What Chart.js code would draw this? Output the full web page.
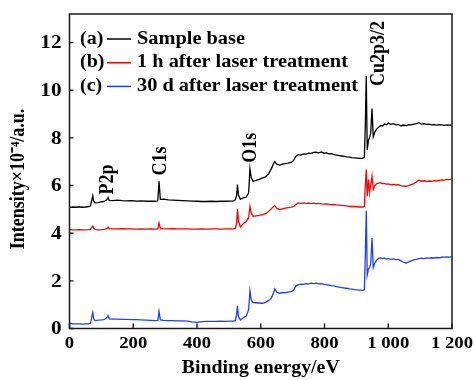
<!DOCTYPE html>
<html>
<head>
<meta charset="utf-8">
<script src="https://cdn.jsdelivr.net/npm/chart.js@4/dist/chart.umd.min.js"></script>
<style>
  html, body { margin: 0; padding: 0; background: #fff; }
  #wrap { width: 474px; height: 380px; position: relative; }
</style>
</head>
<body>
<div id="wrap"><canvas id="xps"></canvas></div>
<script>
// binding energy grid (eV), shared by all three spectra
const energy = [
  0, 10, 20, 30, 40, 50, 60, 66, 70, 73,
  76, 80, 90, 100, 107, 112, 117, 121, 125, 135,
  150, 165, 180, 195, 210, 225, 240, 255, 270, 277,
  281, 285, 295, 310, 325, 340, 355, 370, 385, 400,
  415, 430, 445, 460, 475, 490, 505, 515, 520, 524,
  527, 530, 536, 545, 555, 562, 566, 570, 576, 585,
  595, 606, 615, 625, 633, 640, 644, 650, 659, 668,
  677, 686, 695, 703, 710, 718, 726, 734, 742, 750,
  758, 766, 774, 782, 790, 798, 806, 814, 822, 830,
  838, 846, 854, 862, 870, 878, 886, 894, 902, 910,
  918, 925, 928, 931, 934, 938, 941, 945, 949, 953,
  958, 964, 970, 976, 982, 988, 994, 1000, 1008, 1016,
  1024, 1032, 1040, 1048, 1056, 1064, 1072, 1080, 1088, 1096,
  1104, 1112, 1120, 1128, 1136, 1144, 1152, 1160, 1168, 1176,
  1184, 1192, 1200
];

// intensity x10^-4 (a.u.), spectra stacked with offsets
const sampleBase = [
  5.08, 5.10, 5.09, 5.11, 5.09, 5.10, 5.12, 5.15, 5.40, 5.58,
  5.35, 5.27, 5.28, 5.32, 5.33, 5.36, 5.40, 5.50, 5.38, 5.37,
  5.39, 5.37, 5.36, 5.37, 5.35, 5.36, 5.34, 5.35, 5.34, 5.36,
  6.18, 5.42, 5.43, 5.40, 5.39, 5.38, 5.37, 5.36, 5.35, 5.34,
  5.33, 5.33, 5.34, 5.33, 5.34, 5.34, 5.35, 5.36, 5.40, 5.55,
  6.04, 5.60, 5.42, 5.48, 5.52, 5.70, 6.70, 6.35, 6.18, 6.22,
  6.26, 6.32, 6.36, 6.50, 6.70, 6.92, 7.00, 6.90, 6.86, 6.90,
  6.92, 6.94, 6.97, 7.05, 7.22, 7.30, 7.28, 7.33, 7.32, 7.36,
  7.35, 7.39, 7.40, 7.37, 7.41, 7.36, 7.37, 7.33, 7.34, 7.30,
  7.28, 7.26, 7.24, 7.22, 7.20, 7.19, 7.17, 7.16, 7.15, 7.14,
  7.14, 7.18, 8.50, 10.60, 7.50, 7.90, 8.00, 8.20, 9.23, 8.05,
  8.25, 8.38, 8.45, 8.52, 8.50, 8.58, 8.55, 8.62, 8.57, 8.60,
  8.55, 8.56, 8.50, 8.54, 8.51, 8.56, 8.55, 8.58, 8.60, 8.64,
  8.58, 8.60, 8.57, 8.58, 8.55, 8.56, 8.54, 8.56, 8.55, 8.53,
  8.55, 8.54, 8.54
];
const after1h = [
  4.15, 4.14, 4.14, 4.15, 4.14, 4.14, 4.15, 4.16, 4.25, 4.30,
  4.20, 4.16, 4.14, 4.15, 4.16, 4.17, 4.20, 4.26, 4.19, 4.18,
  4.18, 4.19, 4.18, 4.18, 4.17, 4.18, 4.17, 4.18, 4.17, 4.18,
  4.43, 4.20, 4.19, 4.18, 4.19, 4.18, 4.18, 4.18, 4.17, 4.17,
  4.18, 4.17, 4.18, 4.18, 4.17, 4.18, 4.18, 4.18, 4.20, 4.40,
  5.02, 4.50, 4.26, 4.40, 4.50, 4.65, 5.13, 4.85, 4.71, 4.73,
  4.75, 4.78, 4.82, 4.92, 5.02, 5.12, 5.16, 5.05, 4.99, 5.02,
  5.05, 5.07, 5.09, 5.12, 5.20, 5.27, 5.25, 5.27, 5.25, 5.26,
  5.24, 5.26, 5.24, 5.25, 5.23, 5.22, 5.23, 5.21, 5.20, 5.21,
  5.19, 5.18, 5.17, 5.16, 5.15, 5.13, 5.12, 5.12, 5.11, 5.10,
  5.10, 5.12, 6.00, 6.67, 5.55, 6.25, 5.69, 6.05, 6.39, 5.83,
  6.00, 6.08, 6.10, 6.12, 6.08, 6.09, 6.06, 6.07, 6.04, 6.05,
  6.03, 6.04, 6.00, 5.98, 5.97, 6.00, 6.04, 6.08, 6.15, 6.22,
  6.18, 6.20, 6.17, 6.19, 6.18, 6.21, 6.20, 6.22, 6.24, 6.23,
  6.26, 6.25, 6.28
];
const after30d = [
  0.22, 0.20, 0.19, 0.19, 0.18, 0.19, 0.19, 0.22, 0.50, 0.67,
  0.40, 0.33, 0.35, 0.36, 0.37, 0.40, 0.46, 0.54, 0.40, 0.39,
  0.39, 0.38, 0.38, 0.37, 0.37, 0.36, 0.35, 0.34, 0.33, 0.34,
  0.71, 0.36, 0.34, 0.33, 0.33, 0.32, 0.32, 0.31, 0.28, 0.26,
  0.29, 0.30, 0.30, 0.30, 0.31, 0.30, 0.31, 0.31, 0.33, 0.55,
  0.95, 0.50, 0.36, 0.45, 0.53, 0.80, 1.58, 1.20, 1.09, 1.08,
  1.07, 1.06, 1.10, 1.18, 1.27, 1.50, 1.66, 1.52, 1.48, 1.50,
  1.51, 1.53, 1.55, 1.60, 1.78, 1.84, 1.86, 1.85, 1.88, 1.87,
  1.90, 1.88, 1.90, 1.87, 1.88, 1.85, 1.84, 1.82, 1.80, 1.79,
  1.76, 1.74, 1.72, 1.70, 1.69, 1.66, 1.65, 1.63, 1.62, 1.61,
  1.60, 1.62, 3.00, 4.95, 2.25, 2.50, 2.55, 2.70, 3.80, 2.56,
  2.75, 2.88, 2.94, 2.96, 2.93, 2.95, 2.92, 2.93, 2.90, 2.92,
  2.89, 2.90, 2.84, 2.78, 2.75, 2.80, 2.84, 2.88, 2.90, 2.93,
  2.95, 2.93, 2.96, 2.95, 2.97, 2.96, 2.98, 2.97, 2.99, 3.00,
  3.01, 3.00, 3.02
];

const legendTags = ["(a)", "(b)", "(c)"];
const legendNames = ["Sample base", "1 h after laser treatment", "30 d after laser treatment"];
const lineColors = ["#000000", "#ff0000", "#1f3fff"];

// peak labels, written upward: [text, energy at baseline, intensity at text start]
const peakLabels = [
  ["P2p", 136, 5.62],
  ["C1s", 302, 6.42],
  ["O1s", 586, 6.96],
  ["Cu2p3/2", 988, 10.18],
];

const FONT = "'Liberation Serif', 'Times New Roman', serif";
const STRETCH = 1.12; // typeset glyphs are a little wide

function toPoints(ys) {
  return energy.map((x, i) => ({ x, y: ys[i] }));
}

function fmtEnergy(v) {
  return v >= 1000 ? `${Math.floor(v / 1000)} ${String(v % 1000).padStart(3, "0")}` : String(v);
}

// wide text, horizontal
function wideText(ctx, text, x, y, align, sx) {
  ctx.save();
  ctx.translate(x, y);
  ctx.scale(sx, 1);
  ctx.textAlign = align;
  ctx.fillText(text, 0, 0);
  ctx.restore();
}

// wide text, reading bottom to top
function upText(ctx, text, x, y, align) {
  ctx.save();
  ctx.translate(x, y);
  ctx.rotate(-Math.PI / 2);
  ctx.scale(1, STRETCH);
  ctx.textAlign = align;
  ctx.textBaseline = "alphabetic";
  ctx.fillText(text, 0, 0);
  ctx.restore();
}

// frame, inward ticks, tick labels, axis titles, legend and peak labels
const decorPlugin = {
  id: "decor",
  afterDraw(chart) {
    const { ctx, chartArea: a, scales } = chart;
    const xs = scales.x;
    const ys = scales.y;
    ctx.save();

    ctx.strokeStyle = "#1a1a1a";
    ctx.lineWidth = 1.5;
    ctx.strokeRect(a.left, a.top, a.right - a.left, a.bottom - a.top);

    ctx.lineWidth = 1.4;
    ctx.beginPath();
    xs.ticks.forEach((t) => {
      const px = xs.getPixelForValue(t.value);
      ctx.moveTo(px, a.bottom);
      ctx.lineTo(px, a.bottom - 5);
    });
    ys.ticks.forEach((t) => {
      const py = ys.getPixelForValue(t.value);
      ctx.moveTo(a.left, py);
      ctx.lineTo(a.left + 4, py);
    });
    ctx.stroke();

    ctx.fillStyle = "#000";
    ctx.textBaseline = "middle";
    ctx.font = `bold 17px ${FONT}`;
    xs.ticks.forEach((t) => {
      wideText(ctx, fmtEnergy(t.value), xs.getPixelForValue(t.value), a.bottom + 15, "center", 1.1);
    });
    ctx.font = `bold 18px ${FONT}`;
    ys.ticks.forEach((t) => {
      wideText(ctx, String(t.value), a.left - 8, ys.getPixelForValue(t.value) + 1, "right", 1.18);
    });

    ctx.textBaseline = "alphabetic";
    ctx.font = `bold 18px ${FONT}`;
    wideText(ctx, "Binding energy/eV", (a.left + a.right) / 2, 373, "center", 1.1);
    upText(ctx, "Intensity×10⁻⁴/a.u.", 23.5, 179, "center");

    ctx.font = `bold 18.5px ${FONT}`;
    ctx.textBaseline = "middle";
    legendTags.forEach((tag, i) => {
      const y = 39 + i * 23.7;
      wideText(ctx, tag, 80, y, "left", 1.08);
      ctx.strokeStyle = lineColors[i];
      ctx.lineWidth = 1.5;
      ctx.beginPath();
      ctx.moveTo(107, y);
      ctx.lineTo(131, y);
      ctx.stroke();
      wideText(ctx, legendNames[i], 137, y, "left", 1.1);
    });

    ctx.font = `bold 18px ${FONT}`;
    peakLabels.forEach(([text, ev, val]) => {
      upText(ctx, text, xs.getPixelForValue(ev), ys.getPixelForValue(val), "left");
    });

    ctx.restore();
  },
};

new Chart(document.getElementById("xps"), {
  type: "line",
  data: {
    datasets: [sampleBase, after1h, after30d].map((ys, i) => ({
      label: legendNames[i],
      data: toPoints(ys),
      borderColor: lineColors[i],
      borderWidth: 1.3,
      pointRadius: 0,
      tension: 0,
      fill: false,
    })),
  },
  options: {
    responsive: true,
    maintainAspectRatio: false,
    animation: false,
    events: [],
    layout: { padding: { top: 14, right: 22, left: 0, bottom: 0 } },
    plugins: { legend: { display: false }, tooltip: { enabled: false } },
    scales: {
      x: {
        type: "linear",
        min: 0,
        max: 1200,
        afterFit: (s) => { s.height = 51.5; },
        grid: { display: false, drawTicks: false },
        border: { display: false },
        ticks: { stepSize: 200, display: false },
      },
      y: {
        min: 0,
        max: 13.2,
        afterFit: (s) => { s.width = 69.5; },
        grid: { display: false, drawTicks: false },
        border: { display: false },
        ticks: { stepSize: 2, includeBounds: false, display: false },
      },
    },
  },
  plugins: [decorPlugin],
});
</script>
</body>
</html>
